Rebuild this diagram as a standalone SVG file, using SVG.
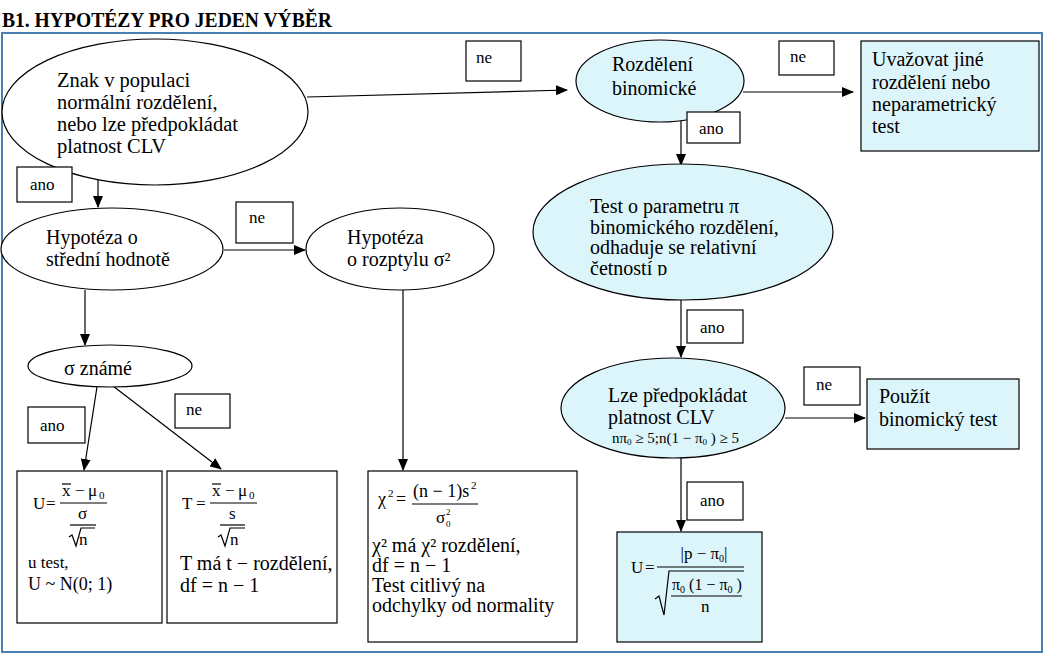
<svg xmlns="http://www.w3.org/2000/svg" width="1043" height="654" viewBox="0 0 1043 654">
<style>
text{font-family:"Liberation Serif","Times New Roman",serif;fill:#000}
.t{font-size:20px}
.t1{font-size:20.5px}
.l{font-size:17px}
.m{font-size:17px}
.s{font-size:11px}
.node{stroke:#000;stroke-width:1.2;fill:#fff}
.cy{fill:#dcf5fa}
.lb{stroke:#000;stroke-width:1.2;fill:#fff}
.ln{stroke:#000;stroke-width:1.2;fill:none}
.conn line{stroke:#000;stroke-width:1.2}
</style>
<defs>
<marker id="ah" markerUnits="userSpaceOnUse" markerWidth="12" markerHeight="10" refX="11" refY="5" orient="auto">
<path d="M0,0 L12,5 L0,10 Z" fill="#000"/>
</marker>
<clipPath id="clipTest"><rect x="520" y="160" width="330" height="115.5"/></clipPath>
</defs>
<rect x="0" y="0" width="1043" height="654" fill="#fff"/>
<text x="2" y="27" font-size="22" font-weight="bold" textLength="330" lengthAdjust="spacingAndGlyphs">B1. HYPOTÉZY PRO JEDEN VÝBĚR</text>
<rect x="2" y="33" width="1040" height="619" fill="none" stroke="#4a7eb0" stroke-width="2"/>

<g id="connectors" class="conn">
<line x1="307" y1="97" x2="567" y2="90" marker-end="url(#ah)"/>
<line x1="743" y1="92" x2="853" y2="92" marker-end="url(#ah)"/>
<line x1="681" y1="121" x2="681" y2="165" marker-end="url(#ah)"/>
<line x1="681" y1="300" x2="681" y2="357" marker-end="url(#ah)"/>
<line x1="785" y1="418" x2="865" y2="418" marker-end="url(#ah)"/>
<line x1="681" y1="458" x2="681" y2="531" marker-end="url(#ah)"/>
<line x1="98" y1="173" x2="98" y2="207" marker-end="url(#ah)"/>
<line x1="224" y1="250" x2="305" y2="250" marker-end="url(#ah)"/>
<line x1="85" y1="290" x2="85" y2="345" marker-end="url(#ah)"/>
<line x1="403" y1="290" x2="403" y2="470" marker-end="url(#ah)"/>
<line x1="97" y1="387" x2="84" y2="470" marker-end="url(#ah)"/>
<line x1="113" y1="386" x2="221" y2="469" marker-end="url(#ah)"/>
</g>

<g id="n-znak">
<ellipse class="node" cx="155" cy="112" rx="153" ry="73"/>
<text class="t1" x="57" y="87">Znak v populaci</text>
<text class="t1" x="57" y="109">normální rozdělení,</text>
<text class="t1" x="57" y="131">nebo lze předpokládat</text>
<text class="t1" x="57" y="153">platnost CLV</text>
</g>

<g id="lbl-ne1"><rect class="lb" x="466" y="41" width="55" height="40"/><text class="l" x="476" y="63">ne</text></g>

<g id="n-binom">
<ellipse class="node cy" cx="660" cy="81" rx="84" ry="41"/>
<text class="t" x="612" y="71">Rozdělení</text>
<text class="t" x="612" y="95">binomické</text>
</g>

<g id="lbl-ne2"><rect class="lb" x="779" y="41" width="55" height="34"/><text class="l" x="790" y="62">ne</text></g>

<g id="n-jine">
<rect class="node cy" x="861" y="41" width="178" height="110"/>
<text class="t" x="872" y="66">Uvažovat jiné</text>
<text class="t" x="872" y="89">rozdělení nebo</text>
<text class="t" x="872" y="111">neparametrický</text>
<text class="t" x="872" y="133">test</text>
</g>

<g id="lbl-ano1"><rect class="lb" x="687" y="112" width="53" height="31"/><text class="l" x="699" y="134">ano</text></g>

<g id="n-test">
<ellipse class="node cy" cx="683" cy="232" rx="150" ry="68"/>
<g clip-path="url(#clipTest)">
<text class="t" x="590" y="213">Test o parametru π</text>
<text class="t" x="590" y="234">binomického rozdělení,</text>
<text class="t" x="590" y="254">odhaduje se relativní</text>
<text class="t" x="590" y="275">četností p</text>
</g>
</g>

<g id="lbl-ano2"><rect class="lb" x="687" y="310" width="56" height="33"/><text class="l" x="700" y="333">ano</text></g>

<g id="n-clv">
<ellipse class="node cy" cx="673" cy="408" rx="112" ry="50"/>
<text class="t" x="608" y="402">Lze předpokládat</text>
<text class="t" x="608" y="424">platnost CLV</text>
<text x="612" y="443" font-size="15">nπ<tspan font-size="9" dy="2">0</tspan><tspan dy="-2"> ≥ 5;n(1 − π</tspan><tspan font-size="9" dy="2">0</tspan><tspan dy="-2"> ) ≥ 5</tspan></text>
</g>

<g id="lbl-ne3"><rect class="lb" x="804" y="367" width="56" height="38"/><text class="l" x="816" y="390">ne</text></g>

<g id="n-binomtest">
<rect class="node cy" x="867" y="379" width="152" height="70"/>
<text class="t" x="879" y="403">Použít</text>
<text class="t" x="879" y="426">binomický test</text>
</g>

<g id="lbl-ano3"><rect class="lb" x="687" y="482" width="56" height="38"/><text class="l" x="700" y="506">ano</text></g>

<g id="n-uright">
<rect class="node cy" x="617" y="532" width="145" height="110"/>
<text class="m" x="631" y="573">U</text>
<text class="m" x="645" y="573">=</text>
<text class="m" x="704" y="559" text-anchor="middle">|p − π<tspan font-size="10" dy="3">0</tspan><tspan dy="-3">|</tspan></text>
<line class="ln" x1="657" y1="567" x2="744" y2="567"/>
<path class="ln" d="M655,599 L659,596 L664,615 L669,571 L744,571"/>
<text x="672" y="590" font-size="16">π<tspan font-size="10" dy="3">0</tspan><tspan dy="-3"> (1 − π</tspan><tspan font-size="10" dy="3">0</tspan><tspan dy="-3"> )</tspan></text>
<line class="ln" x1="671" y1="596" x2="742" y2="596"/>
<text class="m" x="701" y="612">n</text>
</g>

<g id="lbl-ano-l1"><rect class="lb" x="17" y="167" width="55" height="35"/><text class="l" x="30" y="190">ano</text></g>

<g id="n-stred">
<ellipse class="node" cx="112" cy="249" rx="111" ry="41"/>
<text class="t" x="46" y="244">Hypotéza o</text>
<text class="t" x="46" y="266">střední hodnotě</text>
</g>

<g id="lbl-ne-l1"><rect class="lb" x="236" y="202" width="57" height="41"/><text class="l" x="249" y="223">ne</text></g>

<g id="n-rozptyl">
<ellipse class="node" cx="400" cy="249" rx="94" ry="41"/>
<text class="t" x="347" y="244">Hypotéza</text>
<text class="t" x="347" y="266">o rozptylu σ²</text>
</g>

<g id="n-sigma">
<ellipse class="node" cx="110" cy="366" rx="82" ry="21"/>
<text class="t" x="64" y="375">σ známé</text>
</g>

<g id="lbl-ano-l2"><rect class="lb" x="28" y="407" width="57" height="36"/><text class="l" x="40" y="431">ano</text></g>
<g id="lbl-ne-l2"><rect class="lb" x="175" y="394" width="55" height="34"/><text class="l" x="186" y="415">ne</text></g>

<g id="n-utest">
<rect class="node" x="17" y="471" width="145" height="152"/>
<text class="m" x="33" y="509">U</text>
<text class="m" x="46" y="509">=</text>
<text class="m" x="62" y="496">x</text>
<line class="ln" x1="62" y1="484" x2="71" y2="484"/>
<text class="m" x="75" y="496">−</text>
<text class="m" x="88" y="496">μ</text>
<text class="s" x="99" y="499">0</text>
<line class="ln" x1="60" y1="503" x2="107" y2="503"/>
<text class="m" x="78" y="519">σ</text>
<line class="ln" x1="70" y1="525" x2="96" y2="525"/>
<path class="ln" d="M69,537 L72,535 L76,546 L81,528 L95,528"/>
<text class="m" x="79" y="545">n</text>
<text x="28" y="568" font-size="17">u test,</text>
<text x="28" y="590" font-size="18">U ~ N(0; 1)</text>
</g>

<g id="n-ttest">
<rect class="node" x="167" y="471" width="170" height="152"/>
<text class="m" x="182" y="509">T</text>
<text class="m" x="196" y="509">=</text>
<text class="m" x="212" y="496">x</text>
<line class="ln" x1="212" y1="484" x2="221" y2="484"/>
<text class="m" x="225" y="496">−</text>
<text class="m" x="238" y="496">μ</text>
<text class="s" x="249" y="499">0</text>
<line class="ln" x1="210" y1="503" x2="257" y2="503"/>
<text class="m" x="229" y="519">s</text>
<line class="ln" x1="220" y1="525" x2="245" y2="525"/>
<path class="ln" d="M218,537 L221,535 L225,546 L230,528 L245,528"/>
<text class="m" x="230" y="545">n</text>
<text class="t" x="180" y="570">T má t − rozdělení,</text>
<text class="t" x="180" y="592">df = n − 1</text>
</g>

<g id="n-chi">
<rect class="node" x="368" y="471" width="209" height="171"/>
<text x="378" y="505" font-size="18">χ</text>
<text class="s" x="388" y="497">2</text>
<text x="396" y="505" font-size="18">=</text>
<text x="413" y="497" font-size="18">(n − 1)s</text>
<text class="s" x="471" y="489">2</text>
<line class="ln" x1="412" y1="504" x2="478" y2="504"/>
<text x="436" y="523" font-size="17">σ</text>
<text font-size="9" x="446" y="527">0</text>
<text font-size="9" x="446" y="515">2</text>
<text class="t" x="372" y="552">χ² má χ² rozdělení,</text>
<text class="t" x="372" y="572">df = n − 1</text>
<text class="t" x="372" y="592">Test citlivý na</text>
<text class="t" x="372" y="612">odchylky od normality</text>
</g>
</svg>
